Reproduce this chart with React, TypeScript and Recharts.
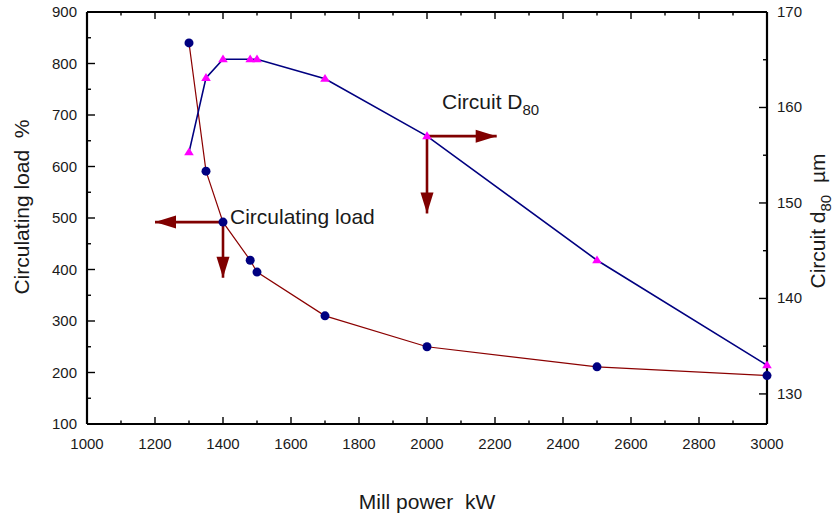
import React from 'react';
import { ComposedChart, Line, XAxis, YAxis, ReferenceLine, ReferenceDot, Label } from 'recharts';

const power = [1300, 1350, 1400, 1480, 1500, 1700, 2000, 2500, 3000];
const circulatingLoad = [840, 591, 492, 418, 395, 310, 250, 211, 194];
const circuitD80 = [155.3, 163.1, 165.05, 165.05, 165.05, 163.0, 157.0, 144.0, 133.0];

const xTicks = [1000, 1100, 1200, 1300, 1400, 1500, 1600, 1700, 1800, 1900, 2000, 2100, 2200, 2300, 2400, 2500, 2600, 2700, 2800, 2900, 3000];
const leftTicks = [100, 150, 200, 250, 300, 350, 400, 450, 500, 550, 600, 650, 700, 750, 800, 850, 900];
const rightTicks = [130, 135, 140, 145, 150, 155, 160, 165, 170];

const X_MIN = 1000;
const X_MAX = 3000;
const L_MIN = 100;
const L_MAX = 900;
const R_MIN = 126.85;
const R_MAX = 170;

const arrowCirc = { x: 1400, y: 492, left: 1200, down: 384 };
const arrowD80 = { x: 2000, y: 157, right: 2205, down: 148.9 };

const data = power.map((p, i) => ({ power: p, load: circulatingLoad[i], d80: circuitD80[i] }));

const FONT = '"Liberation Sans", Arial, Helvetica, sans-serif';
const TXT = '#1a1a1a';
const ARROW = '#800000';
const FRAME = 2.2;
const TICKW = 1.4;

const BottomLabel = (props: any) => {
  const { x, y, payload } = props;
  const v = payload.value;
  if (v % 200 !== 0) return <g />;
  return (
    <text x={x} y={y + 25} textAnchor="middle" fontSize={15} fontFamily={FONT} fill={TXT}>
      {v}
    </text>
  );
};

const LeftLabel = (props: any) => {
  const { x, y, payload } = props;
  const v = payload.value;
  if (v % 100 !== 0) return <g />;
  return (
    <text x={x - 10} y={y + 5} textAnchor="end" fontSize={15} fontFamily={FONT} fill={TXT}>
      {v}
    </text>
  );
};

const RightLabel = (props: any) => {
  const { x, y, payload } = props;
  const v = payload.value;
  if (Math.abs(v % 10) > 1e-6) return <g />;
  return (
    <text x={x + 10} y={y + 5} textAnchor="start" fontSize={15} fontFamily={FONT} fill={TXT}>
      {v}
    </text>
  );
};

const tickShape = (dx: number, dy: number) => (props: any) => {
  const { cx, cy } = props;
  return <line x1={cx} y1={cy} x2={cx + dx} y2={cy + dy} stroke="#000" strokeWidth={TICKW} />;
};

const Triangle = (props: any) => {
  const { cx, cy, index } = props;
  if (cx == null || cy == null) return <g key={`t${index}`} />;
  return (
    <polygon
      key={`t${index}`}
      points={`${cx},${cy - 4.8} ${cx - 4.8},${cy + 3} ${cx + 4.8},${cy + 3}`}
      fill="#ff00ff"
    />
  );
};

const Circle = (props: any) => {
  const { cx, cy, index } = props;
  if (cx == null || cy == null) return <g key={`c${index}`} />;
  return <circle key={`c${index}`} cx={cx} cy={cy} r={4.5} fill="#000080" />;
};

const head = (dir: 'left' | 'right' | 'down') => (props: any) => {
  const { cx, cy } = props;
  const L = 21;
  const H = 6.5;
  let pts = '';
  if (dir === 'left') pts = `${cx},${cy} ${cx + L},${cy - H} ${cx + L},${cy + H}`;
  if (dir === 'right') pts = `${cx},${cy} ${cx - L},${cy - H} ${cx - L},${cy + H}`;
  if (dir === 'down') pts = `${cx},${cy} ${cx - H},${cy - L} ${cx + H},${cy - L}`;
  return <polygon points={pts} fill={ARROW} />;
};

const CircText = (props: any) => {
  const { cx, cy } = props;
  return (
    <text x={cx + 7} y={cy + 2} fontSize={21} fontFamily={FONT} fill={TXT}>
      Circulating load
    </text>
  );
};

const D80Text = (props: any) => {
  const { cx, cy } = props;
  return (
    <text x={cx + 15} y={cy - 27} fontSize={21} fontFamily={FONT} fill={TXT}>
      <tspan>Circuit D</tspan>
      <tspan fontSize={15} dy={6}>80</tspan>
    </text>
  );
};

export default function App() {
  return (
    <div style={{ position: 'absolute', left: 0, top: 0, background: '#fff' }}>
      <ComposedChart width={836} height={519} data={data} margin={{ top: 12, right: 0, bottom: 0, left: 0 }}>
        <XAxis
          dataKey="power"
          type="number"
          domain={[X_MIN, X_MAX]}
          ticks={xTicks}
          interval={0}
          height={95}
          tickLine={false}
          axisLine={false}
          tickSize={0}
          tickMargin={0}
          tick={<BottomLabel />}
        >
          <Label
            content={() => (
              <text x={427} y={509} textAnchor="middle" fontSize={21} fontFamily={FONT} fill={TXT}>
                {'Mill power\u00A0 kW'}
              </text>
            )}
          />
        </XAxis>
        <YAxis
          yAxisId="left"
          type="number"
          domain={[L_MIN, L_MAX]}
          ticks={leftTicks}
          interval={0}
          width={87}
          tickLine={false}
          axisLine={false}
          tickSize={0}
          tickMargin={0}
          tick={<LeftLabel />}
        >
          <Label
            content={() => (
              <text
                x={29}
                y={207}
                transform="rotate(-90, 29, 207)"
                textAnchor="middle"
                fontSize={21}
                fontFamily={FONT}
                fill={TXT}
              >
                {'Circulating load\u00A0 %'}
              </text>
            )}
          />
        </YAxis>
        <YAxis
          yAxisId="right"
          orientation="right"
          type="number"
          domain={[R_MIN, R_MAX]}
          ticks={rightTicks}
          interval={0}
          width={69}
          tickLine={false}
          axisLine={false}
          tickSize={0}
          tickMargin={0}
          tick={<RightLabel />}
        >
          <Label
            content={() => (
              <text
                x={825}
                y={221}
                transform="rotate(-90, 825, 221)"
                textAnchor="middle"
                fontSize={21}
                fontFamily={FONT}
                fill={TXT}
              >
                <tspan>Circuit d</tspan>
                <tspan fontSize={15} dy={6}>80</tspan>
                <tspan dy={-6}>{'\u00A0 \u00B5m'}</tspan>
              </text>
            )}
          />
        </YAxis>

        {/* frame */}
        <ReferenceLine yAxisId="left" ifOverflow="visible" segment={[{ x: X_MIN, y: L_MIN }, { x: X_MAX, y: L_MIN }]} stroke="#000" strokeWidth={FRAME} />
        <ReferenceLine yAxisId="left" ifOverflow="visible" segment={[{ x: X_MIN, y: L_MAX }, { x: X_MAX, y: L_MAX }]} stroke="#000" strokeWidth={FRAME} />
        <ReferenceLine yAxisId="left" ifOverflow="visible" segment={[{ x: X_MIN, y: L_MIN }, { x: X_MIN, y: L_MAX }]} stroke="#000" strokeWidth={FRAME} />
        <ReferenceLine yAxisId="left" ifOverflow="visible" segment={[{ x: X_MAX, y: L_MIN }, { x: X_MAX, y: L_MAX }]} stroke="#000" strokeWidth={FRAME} />

        {/* inward ticks */}
        {xTicks.map((v) => (
          <ReferenceDot key={`bt${v}`} yAxisId="left" ifOverflow="visible" x={v} y={L_MIN} shape={tickShape(0, v % 200 === 0 ? -7 : -3.5)} />
        ))}
        {xTicks.map((v) => (
          <ReferenceDot key={`tt${v}`} yAxisId="left" ifOverflow="visible" x={v} y={L_MAX} shape={tickShape(0, v % 200 === 0 ? 7 : 3.5)} />
        ))}
        {leftTicks.map((v) => (
          <ReferenceDot key={`lt${v}`} yAxisId="left" ifOverflow="visible" x={X_MIN} y={v} shape={tickShape(v % 100 === 0 ? 8 : 4, 0)} />
        ))}
        {rightTicks.map((v) => (
          <ReferenceDot key={`rt${v}`} yAxisId="right" ifOverflow="visible" x={X_MAX} y={v} shape={tickShape(v % 10 === 0 ? -8 : -4, 0)} />
        ))}

        <Line
          yAxisId="left"
          dataKey="load"
          stroke="#8b0000"
          strokeWidth={1.2}
          dot={<Circle />}
          isAnimationActive={false}
        />
        <Line
          yAxisId="right"
          dataKey="d80"
          stroke="#000080"
          strokeWidth={1.6}
          dot={<Triangle />}
          isAnimationActive={false}
        />

        <ReferenceLine
          yAxisId="left"
          segment={[{ x: arrowCirc.x, y: arrowCirc.y }, { x: arrowCirc.left, y: arrowCirc.y }]}
          stroke={ARROW}
          strokeWidth={2.6}
        />
        <ReferenceLine
          yAxisId="left"
          segment={[{ x: arrowCirc.x, y: arrowCirc.y }, { x: arrowCirc.x, y: arrowCirc.down }]}
          stroke={ARROW}
          strokeWidth={2.6}
        />
        <ReferenceDot yAxisId="left" x={arrowCirc.left} y={arrowCirc.y} shape={head('left')} />
        <ReferenceDot yAxisId="left" x={arrowCirc.x} y={arrowCirc.down} shape={head('down')} />

        <ReferenceLine
          yAxisId="right"
          segment={[{ x: arrowD80.x, y: arrowD80.y }, { x: arrowD80.right, y: arrowD80.y }]}
          stroke={ARROW}
          strokeWidth={2.6}
        />
        <ReferenceLine
          yAxisId="right"
          segment={[{ x: arrowD80.x, y: arrowD80.y }, { x: arrowD80.x, y: arrowD80.down }]}
          stroke={ARROW}
          strokeWidth={2.6}
        />
        <ReferenceDot yAxisId="right" x={arrowD80.right} y={arrowD80.y} shape={head('right')} />
        <ReferenceDot yAxisId="right" x={arrowD80.x} y={arrowD80.down} shape={head('down')} />

        <ReferenceDot yAxisId="left" x={arrowCirc.x} y={arrowCirc.y} shape={<CircText />} />
        <ReferenceDot yAxisId="right" x={arrowD80.x} y={arrowD80.y} shape={<D80Text />} />
      </ComposedChart>
    </div>
  );
}
